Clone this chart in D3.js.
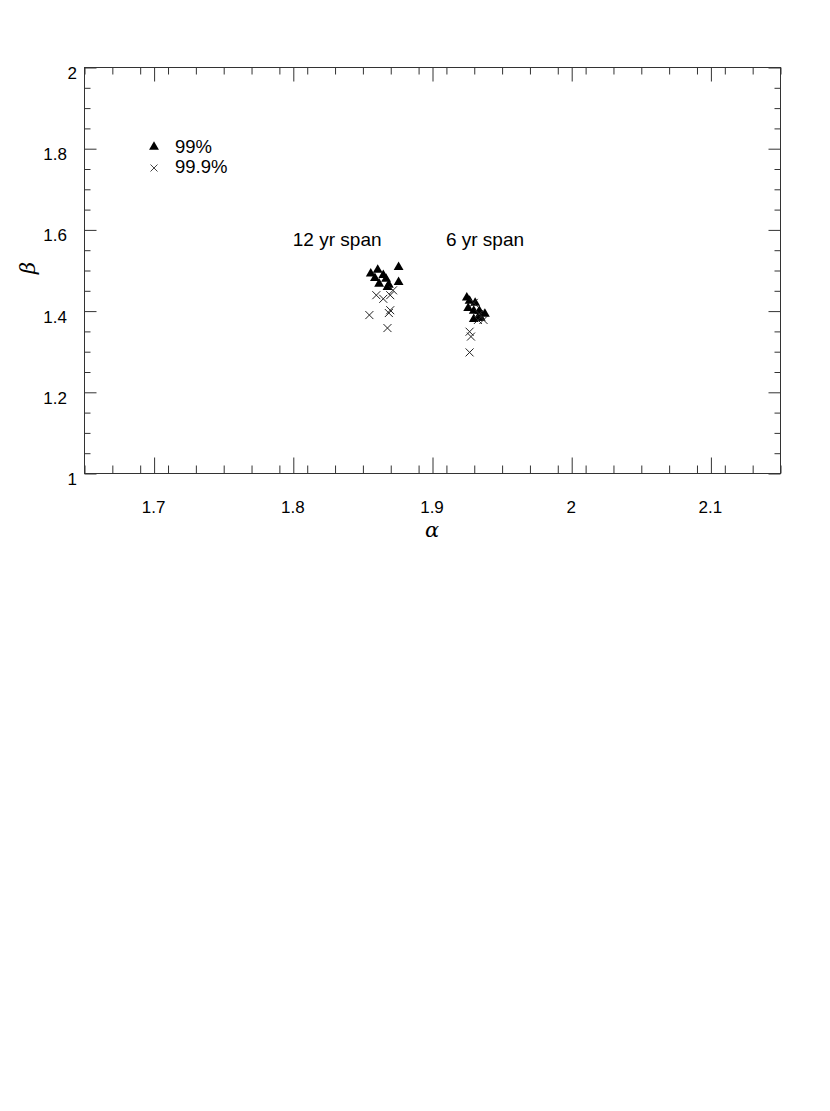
<!DOCTYPE html>
<html><head><meta charset="utf-8">
<script src="https://cdn.jsdelivr.net/npm/d3@7"></script>
<style>body{margin:0;background:#fff}svg{display:block}</style>
</head><body>
<svg id="c" width="830" height="1111"></svg>
<script>
const xDomain = [1.65, 2.15];
const yDomain = [1, 2];
const xMajorTicks = [1.7, 1.8, 1.9, 2.0, 2.1];
const xTickLabels = ["1.7", "1.8", "1.9", "2", "2.1"];
const yMajorTicks = [1, 1.2, 1.4, 1.6, 1.8, 2];
const yTickLabels = ["1", "1.2", "1.4", "1.6", "1.8", "2"];
const xMinorStep = 0.02;
const yMinorStep = 0.05;

// 99% (triangles)
const tri99 = [
  [1.876, 1.507], [1.861, 1.500], [1.856, 1.491], [1.865, 1.487], [1.859, 1.480],
  [1.867, 1.478], [1.876, 1.470], [1.862, 1.466], [1.869, 1.463], [1.868, 1.458],
  [1.925, 1.432], [1.927, 1.424], [1.931, 1.419], [1.926, 1.406], [1.930, 1.399],
  [1.934, 1.399], [1.938, 1.392], [1.933, 1.382], [1.930, 1.379], [1.935, 1.382]
];
// 99.9% (crosses)
const cross999 = [
  [1.860, 1.438], [1.865, 1.429], [1.870, 1.438], [1.872, 1.450], [1.855, 1.389],
  [1.870, 1.401], [1.869, 1.394], [1.868, 1.357],
  [1.930, 1.419], [1.934, 1.392], [1.933, 1.377], [1.937, 1.377], [1.927, 1.348],
  [1.928, 1.336], [1.927, 1.297]
];
const legendItems = ["99%", "99.9%"];
const annotations = [["12 yr span", 1.80, 1.56], ["6 yr span", 1.91, 1.56]];

const svg = d3.select("#c");
const L = 84, R = 780, T = 67, B = 473;
const x = d3.scaleLinear().domain(xDomain).range([L, R]);
const y = d3.scaleLinear().domain(yDomain).range([B, T]);
const axisColor = "#333";

const xMinor = d3.range(xDomain[0], xDomain[1] + 1e-9, xMinorStep).map(v => +v.toFixed(3))
  .filter(v => !xMajorTicks.some(m => Math.abs(m - v) < 1e-6));
const yMinor = d3.range(yDomain[0], yDomain[1] + 1e-9, yMinorStep).map(v => +v.toFixed(3))
  .filter(v => !yMajorTicks.some(m => Math.abs(m - v) < 1e-6));

function styleAxis(g){
  g.select(".domain").remove();
  g.selectAll("line").attr("stroke", axisColor).attr("stroke-width", 1);
  g.selectAll("text").remove();
}
const g = svg.append("g").attr("transform", "translate(0.5,0.5)");
g.append("g").attr("transform", `translate(0,${B})`).call(d3.axisBottom(x).tickValues(xMajorTicks).tickSize(-16)).call(styleAxis);
g.append("g").attr("transform", `translate(0,${B})`).call(d3.axisBottom(x).tickValues(xMinor).tickSize(-8)).call(styleAxis);
g.append("g").attr("transform", `translate(0,${T})`).call(d3.axisTop(x).tickValues(xMajorTicks).tickSize(-14)).call(styleAxis);
g.append("g").attr("transform", `translate(0,${T})`).call(d3.axisTop(x).tickValues(xMinor).tickSize(-7)).call(styleAxis);
g.append("g").attr("transform", `translate(${L},0)`).call(d3.axisLeft(y).tickValues(yMajorTicks).tickSize(-12)).call(styleAxis);
g.append("g").attr("transform", `translate(${L},0)`).call(d3.axisLeft(y).tickValues(yMinor).tickSize(-6)).call(styleAxis);
g.append("g").attr("transform", `translate(${R},0)`).call(d3.axisRight(y).tickValues(yMajorTicks).tickSize(-12)).call(styleAxis);
g.append("g").attr("transform", `translate(${R},0)`).call(d3.axisRight(y).tickValues(yMinor).tickSize(-6)).call(styleAxis);
g.append("rect").attr("x", L).attr("y", T).attr("width", R - L).attr("height", B - T)
  .attr("fill", "none").attr("stroke", axisColor).attr("stroke-width", 1);

const font = "'Liberation Sans', Arial, Helvetica, sans-serif";
svg.append("g").selectAll("text").data(xMajorTicks).join("text")
  .attr("x", d => x(d)).attr("y", 513).attr("text-anchor", "middle")
  .attr("font-family", font).attr("font-size", 17).attr("fill", "#000")
  .text((d, i) => xTickLabels[i]);
svg.append("g").selectAll("text").data(yMajorTicks).join("text")
  .attr("x", (d, i) => yTickLabels[i].length > 1 ? 67 : 77).attr("y", d => y(d) + 12).attr("text-anchor", "end")
  .attr("font-family", font).attr("font-size", 17).attr("fill", "#000")
  .text((d, i) => yTickLabels[i]);

svg.append("text").attr("x", 432).attr("y", 537).attr("text-anchor", "middle")
  .attr("font-family", "'DejaVu Serif', serif").attr("font-style", "italic").attr("font-size", 21)
  .text("α");
svg.append("text").attr("transform", "translate(35,268) rotate(-90)").attr("text-anchor", "middle")
  .attr("font-family", "'DejaVu Serif', serif").attr("font-style", "italic").attr("font-size", 21)
  .text("β");

const triPath = d3.symbol().type(d3.symbolTriangle).size(42)();
svg.append("g").selectAll("path").data(tri99).join("path")
  .attr("transform", d => `translate(${x(d[0])},${y(d[1])})`)
  .attr("d", triPath).attr("fill", "#000");

function crossPath(s){ return `M${-s},${-s}L${s},${s}M${-s},${s}L${s},${-s}`; }
svg.append("g").selectAll("path").data(cross999).join("path")
  .attr("transform", d => `translate(${x(d[0])},${y(d[1])})`)
  .attr("d", crossPath(4)).attr("stroke", "#222").attr("stroke-width", 1).attr("fill", "none");

svg.append("path").attr("transform", `translate(154,147)`).attr("d", triPath).attr("fill", "#000");
svg.append("path").attr("transform", `translate(154,168)`).attr("d", crossPath(3.5)).attr("stroke", "#444").attr("stroke-width", 1).attr("fill", "none");
svg.append("text").attr("x", 175).attr("y", 153).attr("font-family", font).attr("font-size", 18.5).text(legendItems[0]);
svg.append("text").attr("x", 175).attr("y", 173).attr("font-family", font).attr("font-size", 18.5).text(legendItems[1]);

svg.append("g").selectAll("text").data(annotations).join("text")
  .attr("x", d => x(d[1])).attr("y", d => y(d[2]))
  .attr("font-family", font).attr("font-size", 19).text(d => d[0]);
</script>
</body></html>
